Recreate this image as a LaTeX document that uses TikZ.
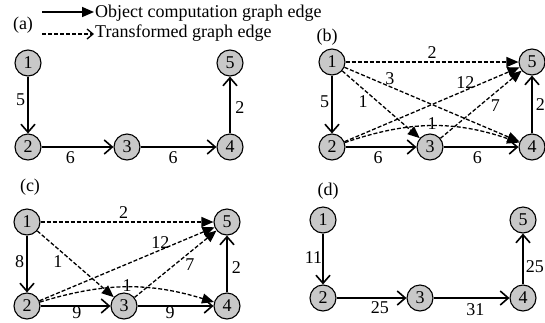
\documentclass[tikz,border=0pt]{standalone}
\usepackage{fontspec}
\setmainfont{Liberation Serif}
\usetikzlibrary{arrows.meta}
\definecolor{NodeGray}{HTML}{C8C8C8}

\begin{document}
\begin{tikzpicture}[
    x=1pt, y=-1pt,
    vtx/.style={circle, draw=black, line width=1.1pt, fill=NodeGray, minimum size=26pt, inner sep=0pt, font=\fontsize{18}{18}\selectfont},
    objedge/.style={line width=1.6pt, -{Straight Barb[length=8pt,width=14pt]}},
    trfedge/.style={line width=1.3pt, dash pattern=on 4pt off 2pt, -{Triangle[length=12pt,width=10pt]}},
    wt/.style={font=\fontsize{18}{18}\selectfont, inner sep=#1},
    wt/.default=2pt,
    tag/.style={font=\fontsize{18}{18}\selectfont, inner sep=0pt}
]
    \useasboundingbox (0,0) rectangle (545,322);

    % Legend
    \node[anchor=west, font=\fontsize{18}{18}\selectfont, inner sep=1pt] (objtxt) at (94,13) {Object computation graph edge};
    \node[anchor=west, font=\fontsize{18}{18}\selectfont, inner sep=1pt] (trftxt) at (94,33) {Transformed graph edge};
    \coordinate (objstart) at (42,12);
    \coordinate (trfstart) at (42,34);
    \draw[line width=1.6pt, -{Triangle[length=12pt,width=10pt]}] (objstart) -- (objtxt.west |- objstart);
    \draw[line width=1.3pt, dash pattern=on 4pt off 2pt, -{Straight Barb[length=6pt,width=10pt]}] (trfstart) -- (trftxt.west |- trfstart);

    % (a) object computation graph
    \node[tag] (taga) at (23,25) {(a)};
    \node[vtx] (a1) at (28,63) {1};
    \node[vtx] (a2) at (28,147) {2};
    \node[vtx] (a3) at (127,147) {3};
    \node[vtx] (a4) at (230,147) {4};
    \node[vtx] (a5) at (230,63) {5};
    \draw[objedge] (a1) -- node[wt, pos=0.4, left] {5} (a2);
    \draw[objedge] (a2) -- node[wt=4pt, pos=0.4, below] {6} (a3);
    \draw[objedge] (a3) -- node[wt=4pt, pos=0.43, below] {6} (a4);
    \draw[objedge] (a4) -- node[wt=4.5pt, pos=0.45, right] {2} (a5);

    % (b) transformed graph
    \node[tag] (tagb) at (327,37) {(b)};
    \node[vtx] (b1) at (332,62) {1};
    \node[vtx] (b2) at (332,147) {2};
    \node[vtx] (b3) at (430,147) {3};
    \node[vtx] (b4) at (532,147) {4};
    \node[vtx] (b5) at (532,62) {5};
    \draw[objedge] (b1) -- node[wt, pos=0.46, left] {5} (b2);
    \draw[objedge] (b2) -- node[wt=3.5pt, pos=0.46, below] {6} (b3);
    \draw[objedge] (b3) -- node[wt=3.5pt, pos=0.45, below] {6} (b4);
    \draw[objedge] (b4) -- node[wt=3pt, pos=0.5, right] {2} (b5);
    \draw[trfedge] (b1) -- node[wt=2.5pt, pos=0.5, above] {2} (b5);
    \draw[trfedge] (b1) -- node[wt=1pt, pos=0.26, above] {3} (b4);
    \draw[trfedge] (b1) -- node[wt=1pt, pos=0.35, below left] {1} (b3);
    \draw[trfedge] (b2) -- node[wt=1pt, pos=0.69, above] {12} (b5);
    \draw[trfedge] (b3) -- node[wt=1pt, pos=0.6, below right] {7} (b5);
    \draw[trfedge] (b2) to[bend left=19] node[wt=0pt, pos=0.5, yshift=2pt] {1} (b4);

    % (c)
    \node[tag] (tagc) at (30,187) {(c)};
    \node[vtx] (c1) at (27,222) {1};
    \node[vtx] (c2) at (27,306) {2};
    \node[vtx] (c3) at (124,306) {3};
    \node[vtx] (c4) at (227,306) {4};
    \node[vtx] (c5) at (227,222) {5};
    \draw[objedge] (c1) -- node[wt, pos=0.46, left] {8} (c2);
    \draw[objedge] (c2) -- node[wt=0pt, pos=0.52, below] {9} (c3);
    \draw[objedge] (c3) -- node[wt=0pt, pos=0.43, below] {9} (c4);
    \draw[objedge] (c4) -- node[wt=4pt, pos=0.44, right] {2} (c5);
    \draw[trfedge] (c1) -- node[wt=2.5pt, pos=0.48, above] {2} (c5);
    \draw[trfedge] (c1) -- node[wt=1pt, pos=0.35, below left] {1} (c3);
    \draw[trfedge] (c2) -- node[wt=1pt, pos=0.69, above] {12} (c5);
    \draw[trfedge] (c3) -- node[wt=1pt, pos=0.6, below right] {7} (c5);
    \draw[trfedge] (c2) to[bend left=17] node[wt=0pt, pos=0.5, yshift=2pt] {1} (c4);

    % (d)
    \node[tag] (tagd) at (328,191) {(d)};
    \node[vtx] (d1) at (323,220) {1};
    \node[vtx] (d2) at (323,298) {2};
    \node[vtx] (d3) at (420,298) {3};
    \node[vtx] (d4) at (523,298) {4};
    \node[vtx] (d5) at (523,220) {5};
    \draw[objedge] (d1) -- node[wt=0pt, pos=0.48, left] {11} (d2);
    \draw[objedge] (d2) -- node[wt=3pt, pos=0.62, below] {25} (d3);
    \draw[objedge] (d3) -- node[wt=5pt, pos=0.55, below] {31} (d4);
    \draw[objedge] (d4) -- node[wt=2pt, pos=0.36, right] {25} (d5);
\end{tikzpicture}
\end{document}
